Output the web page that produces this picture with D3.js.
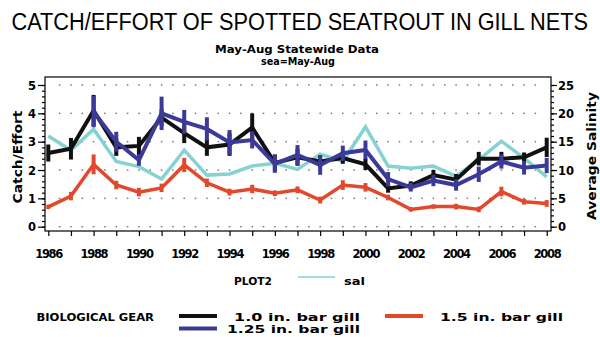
<!DOCTYPE html>
<html><head><meta charset="utf-8">
<script src="https://cdn.jsdelivr.net/npm/d3@7"></script>
<style>body{margin:0;background:#fff}svg{display:block}</style>
</head><body>
<svg id="c" width="600" height="337"></svg>
<script>
const years = d3.range(1986, 2009);
const xTickLabels = d3.range(1986, 2009, 2);
const leftTicks = [0, 1, 2, 3, 4, 5];
const rightTicks = [0, 5, 10, 15, 20, 25];
const gear10 = [2.6, 2.75, 4.1, 2.8, 2.85, 3.85, 3.3, 2.8, 2.9, 3.5, 2.25, 2.45, 2.3, 2.42, 2.2, 1.35, 1.45, 1.82, 1.66, 2.4, 2.4, 2.45, 2.8];
const gear10Err = [0.3, 0.38, 0.55, 0.3, 0.32, 0.3, 0.35, 0.3, 0.4, 0.5, 0.3, 0.3, 0.2, 0.2, 0.2, 0.15, 0.15, 0.18, 0.2, 0.24, 0.24, 0.17, 0.34];
const gear125Years = d3.range(1988, 2009);
const gear125 = [4.06, 3.0, 2.35, 4.0, 3.7, 3.45, 2.97, 3.06, 2.22, 2.53, 2.18, 2.59, 2.71, 1.68, 1.39, 1.63, 1.47, 1.85, 2.3, 2.08, 2.16];
const gear125Err = [0.55, 0.35, 0.2, 0.59, 0.42, 0.41, 0.44, 0.3, 0.32, 0.35, 0.35, 0.27, 0.33, 0.25, 0.15, 0.2, 0.2, 0.27, 0.25, 0.24, 0.27];
const gear15 = [0.7, 1.08, 2.2, 1.47, 1.22, 1.37, 2.18, 1.55, 1.22, 1.33, 1.18, 1.3, 0.94, 1.47, 1.39, 1.03, 0.61, 0.71, 0.71, 0.61, 1.24, 0.88, 0.82];
const gear15Err = [0.08, 0.15, 0.35, 0.15, 0.15, 0.15, 0.25, 0.15, 0.12, 0.15, 0.1, 0.12, 0.12, 0.17, 0.15, 0.1, 0.08, 0.08, 0.1, 0.1, 0.17, 0.1, 0.12];
const salinity = [16.0, 13.5, 17.2, 11.5, 10.6, 8.4, 13.5, 9.1, 9.3, 10.7, 11.2, 10.1, 12.8, 11.5, 17.6, 10.7, 10.3, 10.7, 8.9, 11.8, 15.1, 12.1, 8.8];

const svg = d3.select("#c");
const BOLD = "'DejaVu Sans', sans-serif";
const x = d3.scaleLinear().domain([1986, 2008]).range([48.3, 546.7]);
const yL = d3.scaleLinear().domain([0, 5]).range([226.7, 85]);
const yR = d3.scaleLinear().domain([0, 25]).range([226.7, 85]);
const C = {black: "#111111", blue: "#3c3a98", red: "#e2492c", cyan: "#86d2d2"};

function txt(t, px, py, size, len, opts = {}) {
  const e = svg.append("text").attr("x", px).attr("y", py).text(t)
    .attr("font-family", opts.family || BOLD).attr("font-size", size)
    .attr("font-weight", opts.weight || "bold").attr("fill", "#000")
    .attr("text-anchor", opts.anchor || "start");
  if (len) e.attr("textLength", len).attr("lengthAdjust", "spacingAndGlyphs");
  if (opts.rotate) e.attr("transform", `rotate(${opts.rotate},${px},${py})`);
  return e;
}
// title: scaled horizontally to fit the reference width
const title = svg.append("text").attr("x", 0).attr("y", 0)
  .text("CATCH/EFFORT OF SPOTTED SEATROUT IN GILL NETS")
  .attr("font-family", "'Liberation Sans', Arial, sans-serif").attr("font-size", 24).attr("fill", "#000");
const natW = title.node().getComputedTextLength();
title.attr("transform", `translate(11.5,29.5) scale(${577 / natW},1)`);

txt("May-Aug Statewide Data", 215, 53, 10, 164);
txt("sea=May-Aug", 261, 64.5, 10, 74);

// grid dots
const g = svg.append("g");
const dotXs = d3.range(1986.5, 2008, 0.5);
leftTicks.forEach(v => {
  dotXs.forEach(xx => {
    g.append("rect").attr("x", x(xx) - 0.75).attr("y", yL(v) - 0.75).attr("width", 1.5).attr("height", 1.5).attr("fill", "#777");
  });
});

// frame
svg.append("rect").attr("x", 45).attr("y", 77).attr("width", 506).attr("height", 154)
  .attr("fill", "none").attr("stroke", "#000").attr("stroke-width", 1.2);

// axes
const axL = d3.axisLeft(yL).tickValues(leftTicks).tickSize(7).tickFormat(d3.format("d"));
const gL = svg.append("g").attr("transform", "translate(45,0)").call(axL);
const axLm = d3.axisLeft(yL).tickValues(d3.range(0, 5.01, 0.2)).tickSize(3).tickFormat("");
svg.append("g").attr("transform", "translate(45,0)").call(axLm);
const axR = d3.axisRight(yR).tickValues(rightTicks).tickSize(6).tickFormat(d3.format("d"));
const gR = svg.append("g").attr("transform", "translate(551,0)").call(axR);
const axRm = d3.axisRight(yR).tickValues(d3.range(0, 25.01, 1)).tickSize(3).tickFormat("");
svg.append("g").attr("transform", "translate(551,0)").call(axRm);
const axB = d3.axisBottom(x).tickValues(years).tickSize(5).tickFormat("");
svg.append("g").attr("transform", "translate(0,231)").call(axB);
svg.selectAll(".domain").remove();
svg.selectAll(".tick line").attr("stroke", "#000").attr("stroke-width", 1.2);
gL.selectAll(".tick text").attr("font-family", BOLD).attr("font-weight", "bold").attr("font-size", 11.5).attr("x", -9).attr("fill", "#000");
gR.selectAll(".tick text").attr("font-family", BOLD).attr("font-weight", "bold").attr("font-size", 11.5).attr("x", 7).attr("fill", "#000");
svg.selectAll(".tick text").attr("dy", "0.36em");

const gx = svg.append("g");
xTickLabels.forEach(yv => {
  gx.append("text").attr("x", x(yv) + 1).attr("y", 258).text(yv)
    .attr("font-family", BOLD).attr("font-weight", "bold").attr("font-size", 11.5)
    .attr("text-anchor", "middle").attr("textLength", 28).attr("lengthAdjust", "spacing");
});

txt("Catch/Effort", 22, 157, 11.5, 93, {anchor: "middle", rotate: -90});
txt("Average Salinity", 596, 156, 11.5, 128, {anchor: "middle", rotate: -90});

// series
function series(xs, vals, errs, ys, color, lw, ew) {
  const data = xs.map((yr, i) => ({yr, v: vals[i], e: errs ? errs[i] : 0}));
  const line = d3.line().x(d => x(d.yr)).y(d => ys(d.v));
  svg.append("path").datum(data).attr("d", line).attr("fill", "none")
    .attr("stroke", color).attr("stroke-width", lw).attr("stroke-linejoin", "miter");
  if (errs) {
    svg.append("g").selectAll("line").data(data).join("line")
      .attr("x1", d => x(d.yr)).attr("x2", d => x(d.yr))
      .attr("y1", d => ys(d.v - d.e)).attr("y2", d => ys(d.v + d.e))
      .attr("stroke", color).attr("stroke-width", ew);
  }
}
series(years, salinity, null, yR, C.cyan, 3.5, 0);
series(years, gear15, gear15Err, yL, C.red, 3.5, 4);
series(years, gear10, gear10Err, yL, C.black, 4, 4);
series(gear125Years, gear125, gear125Err, yL, C.blue, 4, 4);

// legend
txt("PLOT2", 234, 285, 11, 38);
svg.append("line").attr("x1", 298).attr("x2", 335).attr("y1", 277).attr("y2", 277).attr("stroke", C.cyan).attr("stroke-width", 1.5);
txt("sal", 344, 285, 11, 21);
txt("BIOLOGICAL GEAR", 36.5, 321, 11, 117.5);
svg.append("line").attr("x1", 179).attr("x2", 217).attr("y1", 316).attr("y2", 316).attr("stroke", C.black).attr("stroke-width", 4);
txt("1.0 in. bar gill", 234, 320.5, 11, 126);
svg.append("line").attr("x1", 385).attr("x2", 423).attr("y1", 316).attr("y2", 316).attr("stroke", C.red).attr("stroke-width", 4);
txt("1.5 in. bar gill", 440, 320.5, 11, 123);
svg.append("line").attr("x1", 179).attr("x2", 217).attr("y1", 328.5).attr("y2", 328.5).attr("stroke", C.blue).attr("stroke-width", 4);
txt("1.25 in. bar gill", 227, 332.5, 11, 133);
</script>
</body></html>
